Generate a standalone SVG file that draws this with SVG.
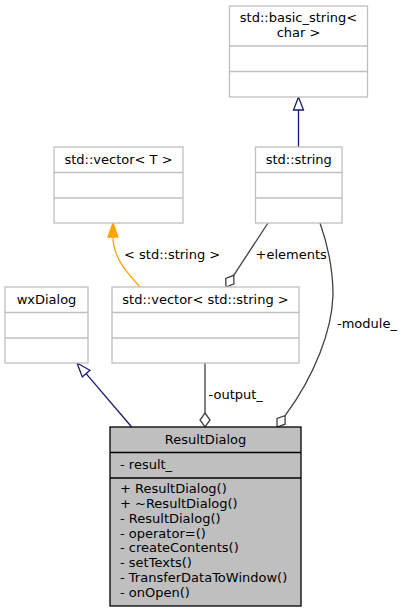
<svg xmlns="http://www.w3.org/2000/svg" width="404" height="612" viewBox="0 0 404 612">
<style>
text{font-family:"DejaVu Sans","Liberation Sans",sans-serif;font-size:13px;fill:#000}
.c{text-anchor:middle}
.box{fill:#fff;stroke:#bfbfbf;stroke-width:1.3}
.sep{stroke:#bfbfbf;stroke-width:1.3}
.main{fill:#bfbfbf;stroke:#000;stroke-width:1.3}
.msep{stroke:#000;stroke-width:1.3}
.inh{fill:none;stroke:#191970;stroke-width:1.3}
.inhh{fill:#fff;stroke:#191970;stroke-width:1.3}
.use{fill:none;stroke:#404040;stroke-width:1.3}
.useh{fill:#fff;stroke:#404040;stroke-width:1.3}
.tpl{fill:none;stroke:#ffa500;stroke-width:1.3}
.tplh{fill:#ffa500;stroke:#ffa500;stroke-width:1.3}
</style>
<rect width="404" height="612" fill="#fff"/>
<g id="connectors">
<line class="inh" x1="298.5" y1="147" x2="298.5" y2="110"/>
<polygon class="inhh" points="298.5,97 293.5,110 303.5,110"/>
<path class="tpl" d="M140,287 C128,274 113,258 113,237"/>
<polygon class="tplh" points="113,223 108,237 118,237"/>
<line class="use" x1="268" y1="223" x2="233.7" y2="275.3"/>
<polygon class="useh" points="233.7,275.3 234,283.9 226,287 225.7,278.4"/>
<text x="255.5" y="258.5">+elements</text>
<text x="124" y="258.5">&lt; std::string &gt;</text>
<path class="use" d="M320,223 C326,240 333,265 333,295 C332,330 315,375 285.1,415.7"/>
<polygon class="useh" points="285.1,415.7 285.1,424.2 277,427 277,418.4"/>
<text x="337" y="328">-module_</text>
<line class="use" x1="205" y1="363" x2="205" y2="413"/>
<polygon class="useh" points="205,413 210,420 205,427 200,420"/>
<text x="208.5" y="398.5">-output_</text>
<line class="inh" x1="131.7" y1="427" x2="86.1" y2="373.6"/>
<polygon class="inhh" points="77,363 89.9,370.3 82.3,376.9"/>
</g>
<g id="basic_string">
<rect class="box" x="229.5" y="6" width="138" height="91"/>
<line class="sep" x1="229.5" y1="46" x2="367.5" y2="46"/>
<line class="sep" x1="229.5" y1="71.5" x2="367.5" y2="71.5"/>
<text class="c" x="298.5" y="21.7">std::basic_string&lt;</text>
<text class="c" x="298.5" y="36.5">char &gt;</text>
</g>
<g id="std_string">
<rect class="box" x="255.5" y="147" width="86.5" height="76"/>
<line class="sep" x1="255.5" y1="172.5" x2="342" y2="172.5"/>
<line class="sep" x1="255.5" y1="198" x2="342" y2="198"/>
<text class="c" x="298.75" y="163.5">std::string</text>
</g>
<g id="vector_T">
<rect class="box" x="54" y="147" width="129" height="76"/>
<line class="sep" x1="54" y1="172.5" x2="183" y2="172.5"/>
<line class="sep" x1="54" y1="198" x2="183" y2="198"/>
<text class="c" x="118.5" y="163.5">std::vector&lt; T &gt;</text>
</g>
<g id="wxDialog">
<rect class="box" x="5" y="287" width="83" height="76"/>
<line class="sep" x1="5" y1="312.5" x2="88" y2="312.5"/>
<line class="sep" x1="5" y1="338" x2="88" y2="338"/>
<text class="c" x="46.5" y="303.5">wxDialog</text>
</g>
<g id="vector_string">
<rect class="box" x="112" y="287" width="187" height="76"/>
<line class="sep" x1="112" y1="312.5" x2="299" y2="312.5"/>
<line class="sep" x1="112" y1="338" x2="299" y2="338"/>
<text class="c" x="205.5" y="303.5">std::vector&lt; std::string &gt;</text>
</g>
<g id="ResultDialog">
<rect class="main" x="110" y="427" width="191" height="179"/>
<line class="msep" x1="110" y1="452.5" x2="301" y2="452.5"/>
<line class="msep" x1="110" y1="478" x2="301" y2="478"/>
<text class="c" x="205.5" y="443.5">ResultDialog</text>
<text x="120" y="469">- result_</text>
<text x="120" y="493.3">+ ResultDialog()</text>
<text x="120" y="508">+ ~ResultDialog()</text>
<text x="120" y="522.8">- ResultDialog()</text>
<text x="120" y="537.5">- operator=()</text>
<text x="120" y="552.3">- createContents()</text>
<text x="120" y="567">- setTexts()</text>
<text x="120" y="581.8">- TransferDataToWindow()</text>
<text x="120" y="596.5">- onOpen()</text>
</g>
</svg>
